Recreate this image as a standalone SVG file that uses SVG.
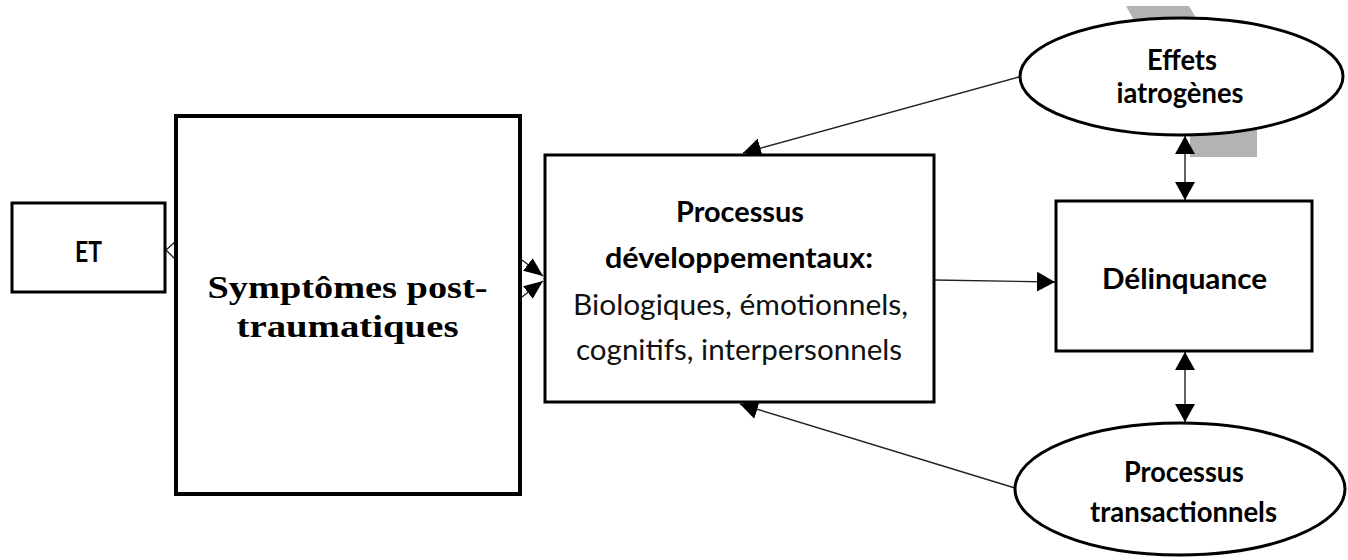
<svg xmlns="http://www.w3.org/2000/svg" width="1348" height="560" viewBox="0 0 1348 560">
  <style>
    .box { fill: #ffffff; stroke: #000000; stroke-width: 3; }
    .thick { stroke-width: 4; }
    .conn { stroke: #222222; stroke-width: 1.4; fill: none; }
    .sans-b { font-family: Lato, "Open Sans", "Liberation Sans", sans-serif; font-weight: bold; font-size: 29px; fill: #000000; text-anchor: middle; }
    .sans-r { font-family: Lato, "Open Sans", "Liberation Sans", sans-serif; font-weight: normal; font-size: 29px; fill: #111111; text-anchor: middle; }
    .serif-b { font-family: "Liberation Serif", "DejaVu Serif", serif; font-weight: bold; font-size: 31px; fill: #000000; text-anchor: middle; }
  </style>
  <defs>
    <marker id="arr" viewBox="0 0 18 20" refX="18" refY="10" markerWidth="18" markerHeight="20" markerUnits="userSpaceOnUse" orient="auto-start-reverse">
      <path d="M0,0 L18,10 L0,20 z" fill="#000000"/>
    </marker>
    <marker id="arrS" viewBox="0 0 19 16" refX="19" refY="8" markerWidth="19" markerHeight="16" markerUnits="userSpaceOnUse" orient="auto">
      <path d="M0,0 L19,8 L0,16 z" fill="#000000"/>
    </marker>
  </defs>
  <rect x="0" y="0" width="1348" height="560" fill="#ffffff"/>

  <!-- grey background band -->
  <polygon points="1126,6 1189,6 1257,122 1257,157 1190,157 1190,122" fill="#b3b3b3"/>

  <g id="connectors">
    <polyline class="conn" points="176,241 166,250 176,260" stroke="#555555"/>
    <line class="conn" x1="518" y1="257" x2="543" y2="276" marker-end="url(#arrS)"/>
    <line class="conn" x1="518" y1="300" x2="543" y2="281" marker-end="url(#arrS)"/>
    <line class="conn" x1="934" y1="280" x2="1055" y2="282" marker-end="url(#arr)"/>
    <line class="conn" x1="1019" y1="77" x2="743" y2="153" marker-end="url(#arr)"/>
    <line class="conn" x1="1015" y1="488" x2="740" y2="404" marker-end="url(#arr)"/>
    <line class="conn" x1="1185" y1="136" x2="1185" y2="200" marker-start="url(#arr)" marker-end="url(#arr)"/>
    <line class="conn" x1="1185" y1="352" x2="1185" y2="422" marker-start="url(#arr)" marker-end="url(#arr)"/>
  </g>

  <g id="node-et">
    <rect class="box" x="12" y="203" width="153" height="89"/>
    <text class="sans-b" x="88.5" y="262" textLength="27" lengthAdjust="spacingAndGlyphs">ET</text>
  </g>

  <g id="node-symptomes">
    <rect class="box thick" x="176" y="116" width="344" height="378"/>
    <text class="serif-b" x="347.5" y="298" textLength="280" lengthAdjust="spacingAndGlyphs">Symptômes post-</text>
    <text class="serif-b" x="347.5" y="337" textLength="222" lengthAdjust="spacingAndGlyphs">traumatiques</text>
  </g>

  <g id="node-processus">
    <rect class="box" x="545" y="155" width="389" height="247"/>
    <text class="sans-b" x="740" y="222" textLength="128" lengthAdjust="spacingAndGlyphs">Processus</text>
    <text class="sans-b" x="739" y="268" textLength="268" lengthAdjust="spacingAndGlyphs">développementaux:</text>
    <text class="sans-r" x="740.5" y="315" textLength="335" lengthAdjust="spacingAndGlyphs">Biologiques, émotionnels,</text>
    <text class="sans-r" x="739" y="360" textLength="326" lengthAdjust="spacingAndGlyphs">cognitifs, interpersonnels</text>
  </g>

  <g id="node-delinquance">
    <rect class="box" x="1056" y="201" width="256" height="150"/>
    <text class="sans-b" x="1184.5" y="289" textLength="165" lengthAdjust="spacingAndGlyphs">Délinquance</text>
  </g>

  <g id="node-effets">
    <ellipse class="box" cx="1181.5" cy="76.5" rx="161.5" ry="58.5"/>
    <text class="sans-b" x="1182" y="70" textLength="70" lengthAdjust="spacingAndGlyphs">Effets</text>
    <text class="sans-b" x="1180" y="103" textLength="127" lengthAdjust="spacingAndGlyphs">iatrogènes</text>
  </g>

  <g id="node-transactionnels">
    <ellipse class="box" cx="1180" cy="489" rx="165" ry="66"/>
    <text class="sans-b" x="1184" y="482" textLength="120" lengthAdjust="spacingAndGlyphs">Processus</text>
    <text class="sans-b" x="1183.5" y="522" textLength="187" lengthAdjust="spacingAndGlyphs">transactionnels</text>
  </g>
</svg>
